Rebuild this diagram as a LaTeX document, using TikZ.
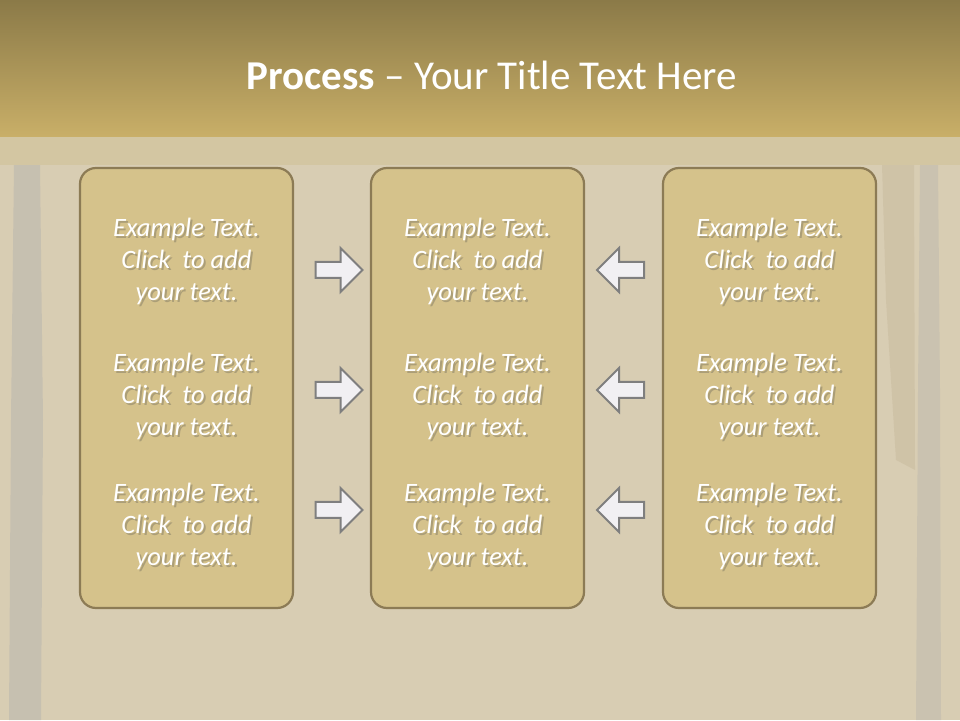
\documentclass[tikz,border=0pt]{standalone}
\usepackage{fontspec}
\setmainfont{Carlito}
\usetikzlibrary{shapes.arrows}
\definecolor{bgsand}{HTML}{D8CDB3}
\definecolor{bgstrip}{HTML}{D3C6A2}
\definecolor{bggrey}{HTML}{B9B6AE}
\definecolor{bgrust}{HTML}{A08C68}
\definecolor{titletop}{HTML}{8B7A48}
\definecolor{titlebottom}{HTML}{C9AF68}
\definecolor{boxfill}{HTML}{D5C28B}
\definecolor{boxedge}{HTML}{8C7B55}
\definecolor{arrowfill}{HTML}{F1F0F3}
\definecolor{arrowedge}{HTML}{7F7F7F}

\tikzset{
  stepbox/.style={draw=boxedge, line width=2.2pt, fill=boxfill,
    rounded corners=16pt, minimum width=213pt, minimum height=440pt},
  blurb/.style={text=white, align=center,
    font=\fontsize{26.5}{32}\selectfont\itshape},
  blurbshadow/.style={blurb, text=black!70, opacity=0.3},
  fwdarrow/.style={single arrow, draw=arrowedge, line width=2pt,
    fill=arrowfill, inner sep=7pt, minimum height=47pt,
    single arrow head extend=14pt},
  backarrow/.style={fwdarrow, shape border rotate=180},
}

\begin{document}
\begin{tikzpicture}[x=1pt,y=1pt]
  \useasboundingbox (0,0) rectangle (960,720);
  % background
  \fill[bgsand] (0,0) rectangle (960,720);
  \fill[bggrey, opacity=0.55] (9,0) -- (41,0) -- (43,300) -- (40,555)
    -- (14,555) -- (11,300) -- cycle;
  \fill[bggrey, opacity=0.45] (916,0) -- (941,0) -- (940,330) -- (938,555)
    -- (920,555) -- (918,330) -- cycle;
  \fill[bgrust, opacity=0.15] (882,555) -- (914,555) -- (915,250)
    -- (896,260) -- (886,420) -- cycle;
  \fill[bgstrip] (0,555) rectangle (960,583);
  % title band
  \shade[top color=titletop, bottom color=titlebottom] (0,583) rectangle (960,720);
  \node[text=white, font=\fontsize{41}{46}\selectfont] (title) at (492,645)
    {\textbf{Process} -- Your Title Text Here};
  % boxes and texts
  \foreach \col/\cx in {left/186.5, mid/477.5, right/769.5} {
    \node[stepbox] (\col) at (\cx,332) {};
    \foreach \row/\cy in {1/459, 2/324, 3/194} {
      \node[blurbshadow] at (\cx+2,\cy-2.5)
        {Example Text.\\Click\ \ to add\\your text.};
      \node[blurb] (\col-\row) at (\cx,\cy)
        {Example Text.\\Click\ \ to add\\your text.};
    }
  }
  % arrows
  \foreach \row/\ay in {1/450, 2/330, 3/210} {
    \node[fwdarrow] (in-\row) at (335,\ay) {};
    \node[backarrow] (back-\row) at (624.5,\ay) {};
  }
\end{tikzpicture}
\end{document}
